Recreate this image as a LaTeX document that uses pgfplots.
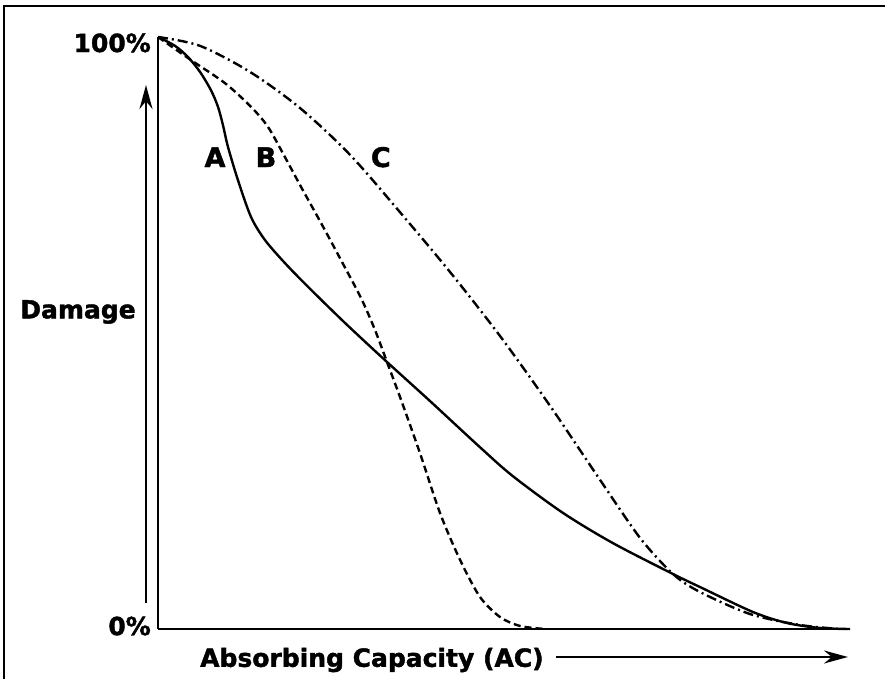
\documentclass[border=0pt]{standalone}
\usepackage{pgfplots}
\pgfplotsset{compat=1.18}
\usetikzlibrary{arrows.meta}
\usepackage{fontspec}
\setmainfont{DejaVu Sans}[BoldFeatures={FakeBold=1.6}]
\begin{document}
\begin{tikzpicture}[x=1bp,y=1bp]
\useasboundingbox (0,0) rectangle (885,679);
\draw[line width=2.6bp] (4,0) -- (4,673) -- (885,673);
\begin{axis}[
    at={(158bp,50bp)}, anchor=south west,
    scale only axis, width=692bp, height=592bp,
    xmin=0, xmax=100, ymin=0, ymax=100,
    axis lines=left,
    axis line style={-, line width=2.8bp},
    xtick=\empty,
    ytick={0.5,99},
    yticklabels={0\%,100\%},
    major tick length=0pt,
    yticklabel style={font=\bfseries\fontsize{25bp}{30bp}\selectfont, inner sep=0pt, xshift=-7bp},
    clip=false,
]
% A: solid
\addplot[line width=2.4bp, smooth, tension=0.5] coordinates {
    (0,100)(2.46,98.5)(4.34,96.6)(6.07,94.1)(7.66,91.0)(8.67,88.2)(9.39,85.1)
    (10.12,81.4)(11.56,75.8)(13.44,69.6)(15.46,65.7)(18.35,61.8)(21.68,57.8)
    (27.02,51.7)(33.09,45.1)(39.31,38.5)(46.53,30.7)(51.30,25.8)(58.53,19.6)
    (65.75,14.5)(74.42,9.29)(78.32,7.09)(85.98,2.87)(90.90,1.01)(95.66,0.17)(100,0)
};
% B: dashed
\addplot[line width=2.4bp, smooth, tension=0.5, dash pattern=on 7bp off 4bp] coordinates {
    (0,100)(4.77,96.1)(9.68,92.2)(13.44,88.2)(15.90,84.8)(18.35,79.7)(20.66,74.7)
    (23.55,68.6)(26.45,62.3)(29.34,55.9)(31.36,50.5)(33.09,45.1)(34.97,39.2)
    (37.86,29.7)(40.75,19.6)(43.64,11.7)(46.53,5.41)(49.42,2.03)(52.31,0.51)(55.92,0)
};
% C: dash-dot
\addplot[line width=2.4bp, smooth, tension=0.5, dash pattern=on 10bp off 4bp on 2bp off 4bp] coordinates {
    (0,100)(6.07,98.5)(13.29,94.1)(20.52,88.0)(27.75,80.1)(34.97,70.4)(42.20,60.3)
    (49.42,49.5)(56.65,37.7)(63.87,25.2)(69.65,15.4)(74.42,9.29)(78.32,6.25)
    (85.55,2.53)(92.77,0.68)(98.55,0)
};
\node[font=\bfseries\fontsize{27bp}{30bp}\selectfont] at (axis cs:8.24,79.7) {A};
\node[font=\bfseries\fontsize{27bp}{30bp}\selectfont] at (axis cs:15.6,79.7) {B};
\node[font=\bfseries\fontsize{27bp}{30bp}\selectfont] at (axis cs:32.2,79.7) {C};
\end{axis}
\node[font=\bfseries\fontsize{25bp}{30bp}\selectfont] at (78,367) {Damage};
\node[font=\bfseries\fontsize{25bp}{30bp}\selectfont, anchor=west, inner sep=0pt] at (200,19) {Absorbing Capacity (AC)};
\draw[line width=2.4bp, -{Stealth[length=24bp, width=13bp]}] (146,76) -- (146,594);
\draw[line width=2.4bp, -{Stealth[length=24bp, width=13bp]}] (556,22) -- (848,22);
\end{tikzpicture}
\end{document}
